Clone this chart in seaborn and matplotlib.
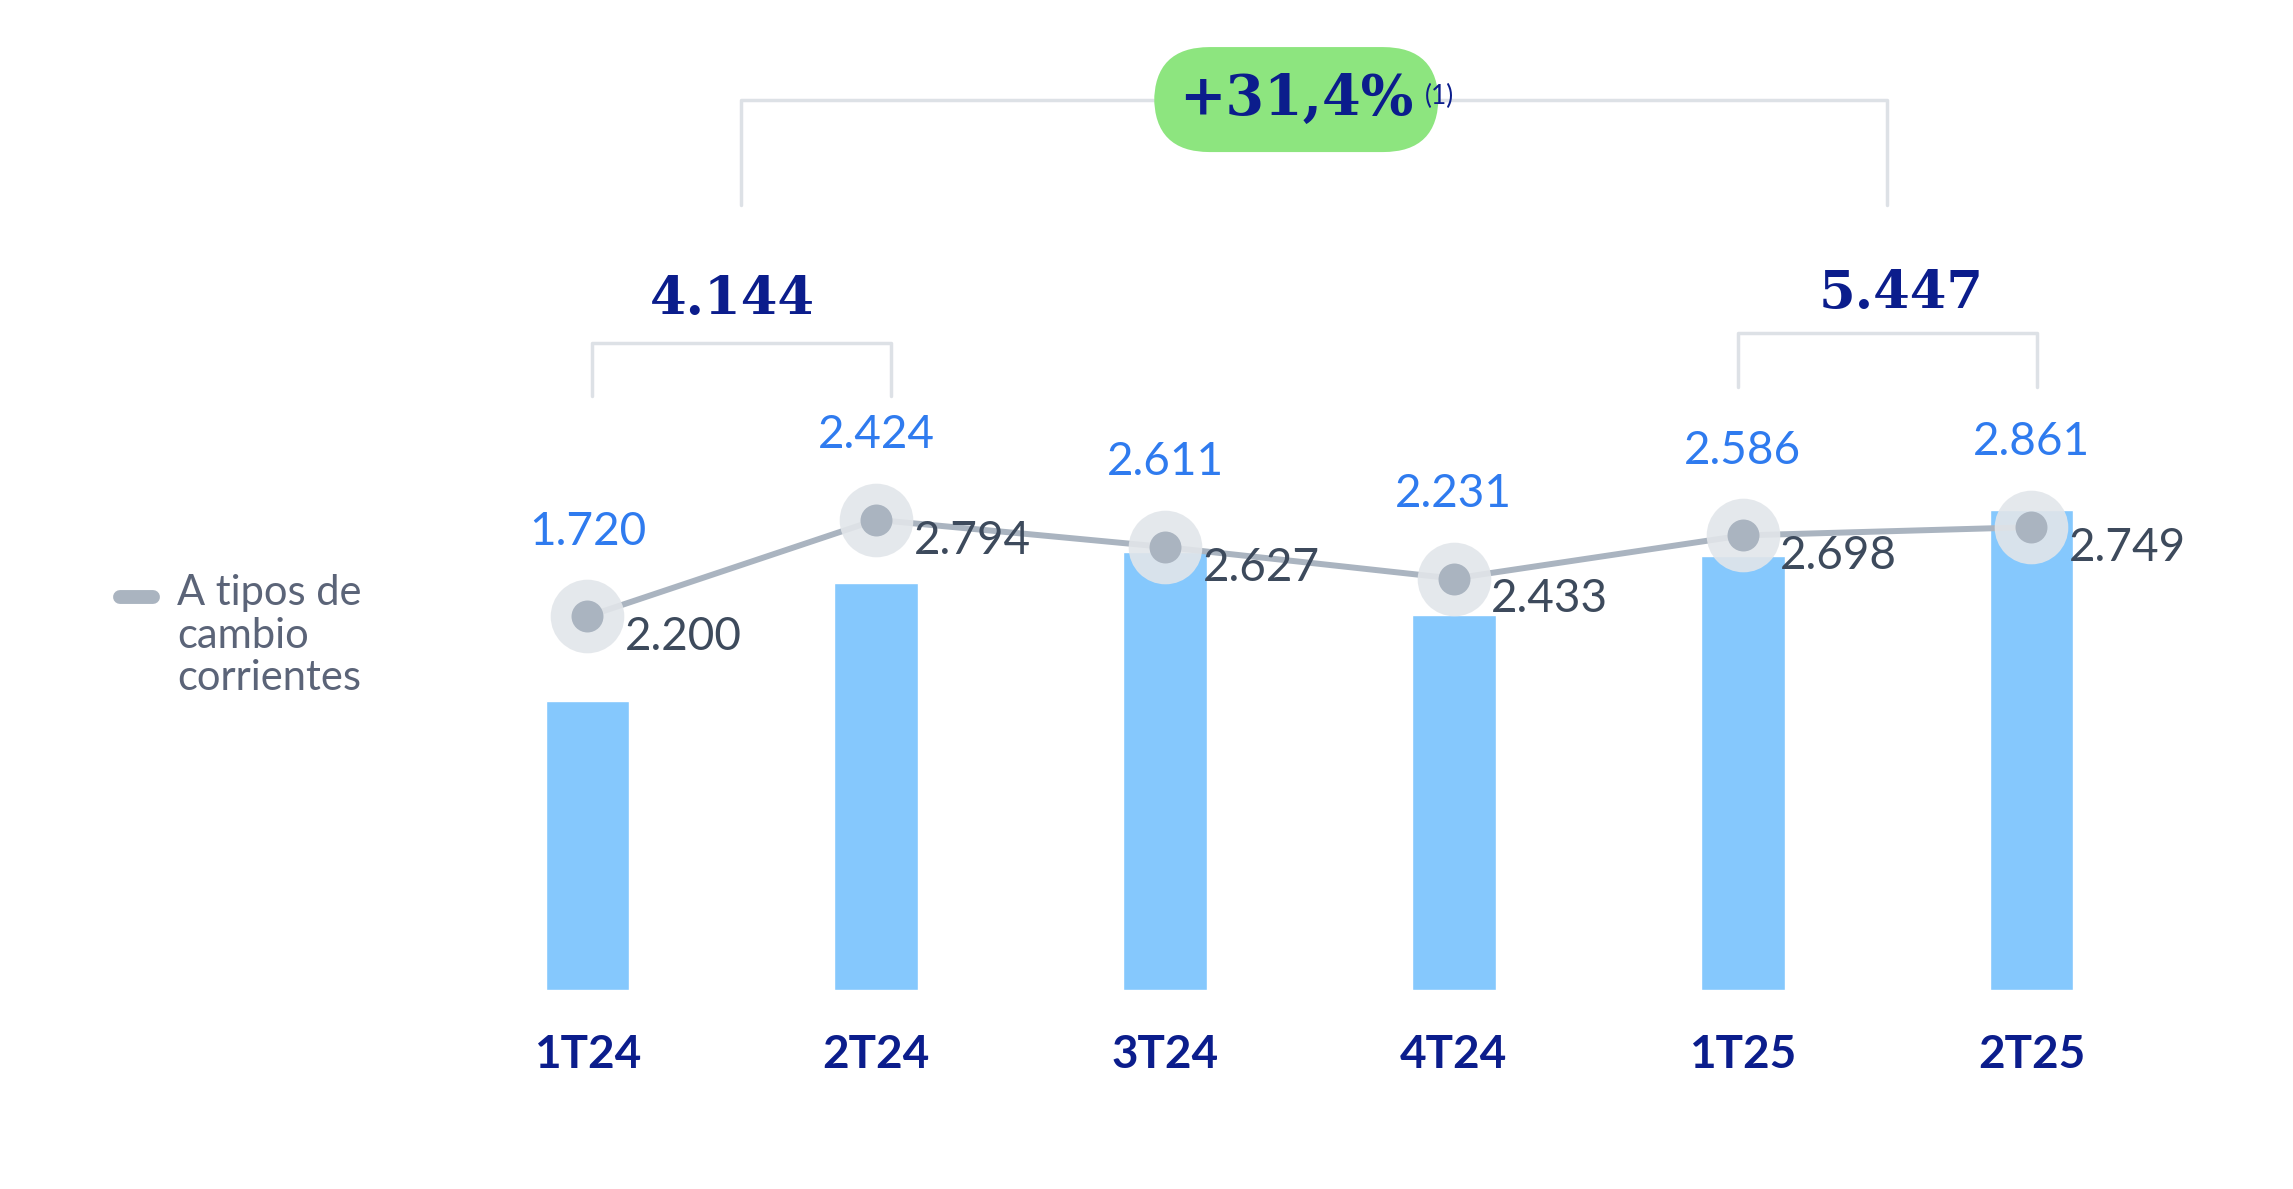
import numpy as np
import pandas as pd
import seaborn as sns
import matplotlib.pyplot as plt

quarters = ['1T24', '2T24', '3T24', '4T24', '1T25', '2T25']
constant_fx = [1720, 2424, 2611, 2231, 2586, 2861]
current_fx = [2200, 2794, 2627, 2433, 2698, 2749]
sum_2024 = '4.144'
sum_2025 = '5.447'
growth = '+31,4%'

def fmt(v):
    return f'{v:,}'.replace(',', '.')

sns.set_theme(style='white')
plt.rcParams['font.family'] = ['Lato', 'DejaVu Sans']

W, H = 1569, 812  # layout grid measured on the reference
fig = plt.figure(figsize=(22.93, 11.89), dpi=100)
ax = fig.add_axes([302 / W, 1 - 676 / H, 1188 / W, 576 / H])

df = pd.DataFrame({'q': quarters, 'pos': np.arange(6), 'bar': constant_fx, 'line': current_fx})

ax.bar(df['pos'], df['bar'], width=0.29, color='#85c8fd', zorder=1)
ax.set_xlim(-0.506, 5.506)
ax.set_ylim(0, 5024)

ax2 = ax.twinx()
ax2.set_ylim(-95, 5089)
sns.lineplot(x='pos', y='line', data=df, ax=ax2, color='#aab4c0', lw=4.3, zorder=2)
ax2.scatter(df['pos'], df['line'], s=53 ** 2, color='#e2e6ea', alpha=0.9, zorder=3, lw=0)
ax2.scatter(df['pos'], df['line'], s=23 ** 2, color='#aab4c0', zorder=4, lw=0)

for i, (b, l) in enumerate(zip(constant_fx, current_fx)):
    ax2.annotate(fmt(b), (i, l), xytext=(0, 46), textcoords='offset points',
                 ha='center', va='bottom', fontsize=33, color='#2f7bef')
    ax2.annotate(fmt(l), (i, l), xytext=(27, -15), textcoords='offset points',
                 ha='left', va='center', fontsize=33, color='#3d4a5c')

for a in (ax, ax2):
    a.axis('off')

for i, q in enumerate(quarters):
    ax.text(i, -390, q, ha='center', va='center', fontsize=33, fontweight='bold', color='#0b1d8c')

# brackets
def bracket(x0, x1, ytop, ybot, color='#dde1e6'):
    ax.plot([x0, x0, x1, x1], [ybot, ytop, ytop, ybot], color=color, lw=2.5, clip_on=False)

bracket(0.015, 1.05, 3854, 3540)
bracket(3.985, 5.02, 3914, 3592)
bracket(0.53, 4.5, 5302, 4674)

serif = ['DejaVu Serif']
ax.text(0.5, 4110, sum_2024, ha='center', va='center', fontsize=38, fontweight='bold',
        color='#0b1d8c', family=serif)
ax.text(4.55, 4150, sum_2025, ha='center', va='center', fontsize=38, fontweight='bold',
        color='#0b1d8c', family=serif)

fig.text(887 / W, 1 - 68 / H, growth, ha='center', va='center', fontsize=40, fontweight='bold',
         color='#0b1d8c', family=serif,
         bbox=dict(boxstyle='round,pad=0.45,rounding_size=1.0', fc='#8de57f', ec='none'))
fig.text(975 / W, 1 - 66 / H, '(1)', ha='left', va='center', fontsize=19, color='#0b1d8c')

# legend
fig.add_artist(plt.Line2D([82 / W, 105 / W], [1 - 408 / H] * 2, color='#aab4c0', lw=10,
                          solid_capstyle='round'))
fig.text(121 / W, 1 - 392 / H, 'A tipos de\ncambio\ncorrientes', ha='left', va='top',
         fontsize=30, color='#5b6478', linespacing=1.15)

fig.savefig('out.png', dpi=100)
